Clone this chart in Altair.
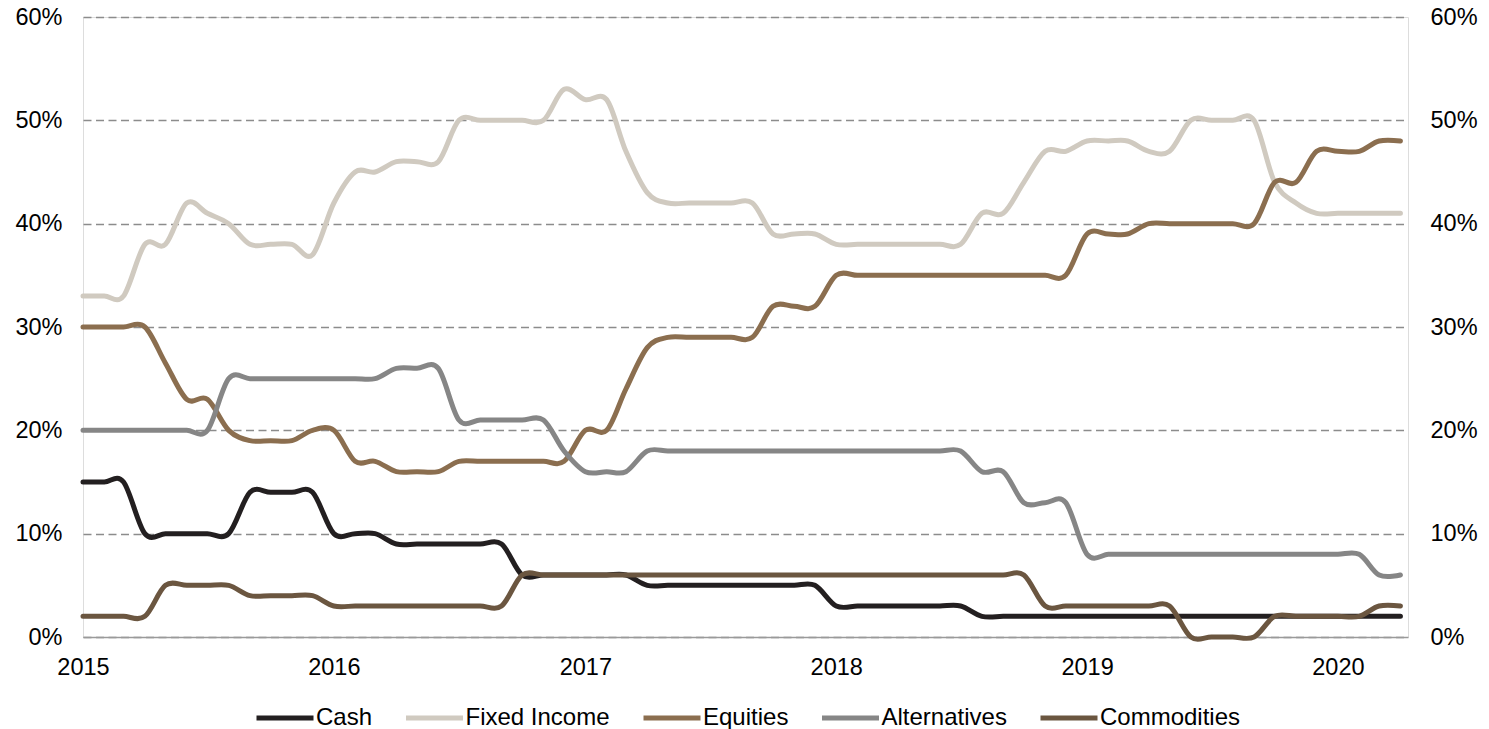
import altair as alt
import pandas as pd

# ---- data (monthly, Jan 2015 .. Apr 2020), percent of allocation ----
months = [f"{2015 + i // 12}-{i % 12 + 1:02d}-01T00:00:00" for i in range(64)]

series_names = ["Cash", "Fixed Income", "Equities", "Alternatives", "Commodities"]
series_colors = ["#231F20", "#D0CAC0", "#8B6E4F", "#868686", "#6B5640"]

cash = [15, 15, 15,
        10, 10, 10, 10, 10,
        14, 14, 14, 14,
        10, 10, 10,
        9, 9, 9, 9, 9, 9,
        6, 6, 6, 6, 6, 6,
        5, 5, 5, 5, 5, 5, 5, 5, 5,
        3, 3, 3, 3, 3, 3, 3,
        2, 2, 2, 2, 2, 2, 2, 2, 2, 2, 2, 2, 2, 2, 2, 2, 2, 2, 2, 2, 2]

fixed_income = [33, 33, 33,
                38, 38,
                42, 41, 40,
                38, 38, 38,
                37,
                42,
                45, 45,
                46, 46, 46,
                50, 50, 50, 50, 50,
                53,
                52, 52,
                47, 43,
                42, 42, 42, 42, 42,
                39, 39, 39,
                38, 38, 38, 38, 38, 38, 38,
                41, 41,
                44,
                47, 47,
                48, 48, 48,
                47, 47,
                50, 50, 50, 50,
                44, 42,
                41, 41, 41, 41, 41]

equities = [30, 30, 30, 30,
            26.5,
            23, 23,
            20,
            19, 19, 19,
            20, 20,
            17, 17,
            16, 16, 16,
            17, 17, 17, 17, 17, 17,
            20, 20,
            24, 28,
            29, 29, 29, 29, 29,
            32, 32, 32,
            35, 35, 35, 35, 35, 35, 35, 35, 35, 35, 35, 35,
            39, 39, 39,
            40, 40, 40, 40, 40, 40,
            44, 44,
            47, 47, 47,
            48, 48]

alternatives = [20, 20, 20, 20, 20, 20, 20,
                25, 25, 25, 25, 25, 25, 25, 25,
                26, 26, 26,
                21, 21, 21, 21, 21,
                18,
                16, 16, 16,
                18, 18, 18, 18, 18, 18, 18, 18, 18, 18, 18, 18, 18, 18, 18, 18,
                16, 16,
                13, 13, 13,
                8, 8, 8, 8, 8, 8, 8, 8, 8, 8, 8, 8, 8, 8,
                6, 6]

commodities = [2, 2, 2, 2,
               5, 5, 5, 5,
               4, 4, 4, 4,
               3, 3, 3, 3, 3, 3, 3, 3, 3,
               6, 6, 6, 6, 6, 6, 6, 6, 6, 6, 6, 6, 6, 6, 6, 6, 6, 6, 6, 6, 6, 6, 6, 6, 6,
               3, 3, 3, 3, 3, 3, 3,
               0, 0, 0, 0,
               2, 2, 2, 2, 2,
               3, 3]

y_ticks = [0, 10, 20, 30, 40, 50, 60]
x_tick_years = [2015, 2016, 2017, 2018, 2019, 2020]

all_series = [cash, fixed_income, equities, alternatives, commodities]
rows = []
for name, vals in zip(series_names, all_series):
    for d, v in zip(months, vals):
        rows.append({"date": d, "series": name, "value": v})
df = pd.DataFrame(rows)

FONT = "Liberation Sans, Arial, sans-serif"
FS = 23.5
LFS = 24

x_enc = alt.X(
    "date:T",
    scale=alt.Scale(domain=[alt.DateTime(year=2015, month=1, date=1),
                            alt.DateTime(year=2020, month=4, date=12)]),
    axis=alt.Axis(
        title=None,
        format="%Y",
        values=[alt.DateTime(year=y, month=1, date=1) for y in x_tick_years],
        grid=False,
        ticks=False,
        tickSize=0,
        labelPadding=18,
        labelFlush=False,
        labelOverlap=False,
        labelFontSize=FS,
        labelFont=FONT,
        labelColor="#000000",
        domainColor="#9a9a9a",
        domainWidth=1.5,
    ),
)

lines = alt.Chart(df).mark_line(
    interpolate="cardinal",
    strokeWidth=5,
    strokeCap="round",
    strokeJoin="round",
).encode(
    x=x_enc,
    y=alt.Y(
        "value:Q",
        scale=alt.Scale(domain=[0, 60], nice=False, zero=True),
        axis=alt.Axis(
            title=None,
            orient="left",
            values=y_ticks,
            labelExpr="datum.value + '%'",
            grid=True,
            gridDash=[8, 4.5],
            gridColor="#8c8c8c",
            gridWidth=1.5,
            domain=False,
            ticks=False,
            tickSize=0,
            labelPadding=21,
            labelFontSize=FS,
            labelFont=FONT,
            labelColor="#000000",
        ),
    ),
    color=alt.Color(
        "series:N",
        sort=series_names,
        scale=alt.Scale(domain=series_names, range=series_colors),
        legend=alt.Legend(
            title=None,
            orient="none",
            legendX=171,
            legendY=670,
            direction="horizontal",
            columns=5,
            symbolType="stroke",
            symbolSize=3249,
            symbolStrokeWidth=5,
            labelFontSize=LFS,
            labelFont=FONT,
            labelColor="#000000",
            labelOffset=0,
            columnPadding=22.5,
            padding=0,
        ),
    ),
)

right_axis = alt.Chart(df).mark_point(opacity=0).encode(
    x=x_enc,
    y=alt.Y(
        "value:Q",
        scale=alt.Scale(domain=[0, 60], nice=False, zero=True),
        axis=alt.Axis(
            title=None,
            orient="right",
            values=y_ticks,
            labelExpr="datum.value + '%'",
            grid=False,
            domain=False,
            ticks=False,
            tickSize=0,
            labelPadding=22,
            labelFontSize=FS,
            labelFont=FONT,
            labelColor="#000000",
        ),
    ),
)

chart = alt.layer(lines, right_axis).resolve_scale(y="independent").properties(
    width=1325,
    height=620,
    autosize=alt.AutoSizeParams(type="none"),
    padding={"left": 75, "top": 9, "right": 72, "bottom": 95},
).configure_view(stroke=None).configure(font=FONT)

chart.save("out.html", embed_options={"renderer": "svg", "actions": False})
